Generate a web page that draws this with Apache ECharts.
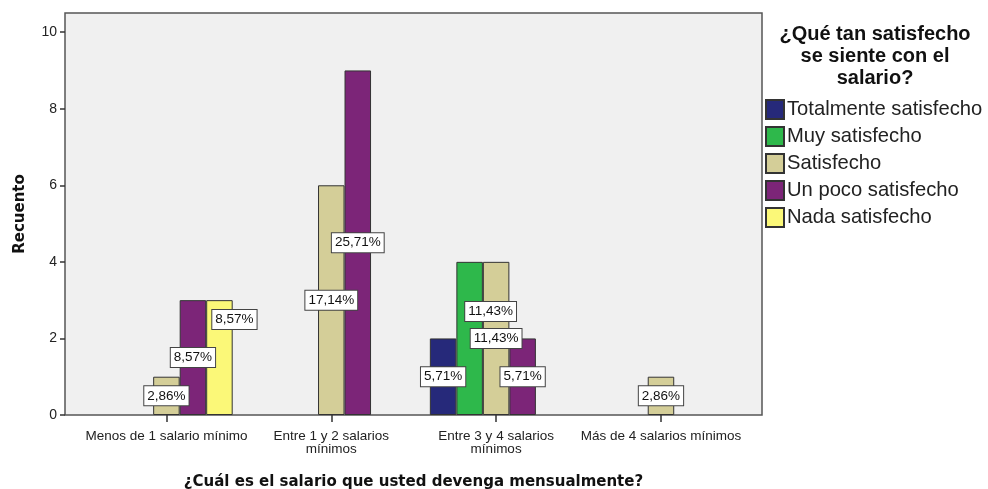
<!DOCTYPE html>
<html>
<head>
<meta charset="utf-8">
<script src="https://cdn.jsdelivr.net/npm/echarts@6/dist/echarts.min.js"></script>
<style>
  html, body { margin: 0; padding: 0; background: #ffffff; }
  #chart { width: 988px; height: 489px; }
</style>
</head>
<body>
<div id="chart"></div>
<script>
// Salary bracket (x axis categories)
const categories = [
  'Menos de 1 salario mínimo',
  'Entre 1 y 2 salarios\nmínimos',
  'Entre 3 y 4 salarios\nmínimos',
  'Más de 4 salarios mínimos'
];

// Satisfaction level (one series each) – counts per salary bracket
const seriesNames = [
  'Totalmente satisfecho',
  'Muy satisfecho',
  'Satisfecho',
  'Un poco satisfecho',
  'Nada satisfecho'
];
const totalmenteSatisfecho = [0, 0, 2, 0];
const muySatisfecho        = [0, 0, 4, 0];
const satisfecho           = [1, 6, 4, 1];
const unPocoSatisfecho     = [3, 9, 2, 0];
const nadaSatisfecho       = [3, 0, 0, 0];

const yTicks = [0, 2, 4, 6, 8, 10];

const seriesValues = [totalmenteSatisfecho, muySatisfecho, satisfecho, unPocoSatisfecho, nadaSatisfecho];
const colors = ['#26297a', '#2eb84b', '#d4ce98', '#7c2578', '#fbf878'];

// total respondents, used for the percentage labels
const total = seriesValues.reduce((s, arr) => s + arr.reduce((a, b) => a + b, 0), 0);

// labels moved aside where they would collide with a neighbour
const labelShift = {
  '4-0': [15, -38],
  '1-2': [21, -27]
};

const fmtPct = v => (v / total * 100).toFixed(2).replace('.', ',') + '%';

const series = seriesNames.map((name, si) => ({
  name: name,
  type: 'bar',
  xAxisIndex: 1,
  yAxisIndex: 1,
  barGap: '0%',
  barCategoryGap: '19.6%',
  itemStyle: { color: colors[si], borderColor: '#333333', borderWidth: 1 },
  emphasis: { disabled: true },
  label: {
    show: true,
    position: 'inside',
    formatter: p => fmtPct(p.value),
    fontFamily: 'Liberation Sans, Arial, sans-serif',
    fontSize: 13.5,
    color: '#111111',
    backgroundColor: '#ffffff',
    borderColor: '#444444',
    borderWidth: 1,
    padding: [3, 3, 2, 3]
  },
  data: seriesValues[si].map((v, ci) => {
    if (!v) return null;
    const item = { value: v };
    const sh = labelShift[si + '-' + ci];
    if (sh) item.label = { offset: sh };
    return item;
  })
}));

const chart = echarts.init(document.getElementById('chart'), null, { renderer: 'canvas' });

chart.setOption({
  animation: false,
  backgroundColor: '#ffffff',
  title: {
    text: '¿Qué tan satisfecho\nse siente con el\nsalario?',
    left: 875,
    top: 23,
    padding: 0,
    textAlign: 'center',
    textStyle: {
      fontFamily: 'Liberation Sans, Arial, sans-serif',
      fontWeight: 'bold',
      fontSize: 20,
      lineHeight: 22,
      color: '#111111'
    }
  },
  legend: {
    data: seriesNames,
    orient: 'vertical',
    left: 765,
    top: 99,
    padding: 0,
    itemWidth: 18,
    itemHeight: 19,
    itemGap: 6,
    icon: 'rect',
    selectedMode: false,
    textStyle: {
      fontFamily: 'Liberation Sans, Arial, sans-serif',
      fontSize: 20.2,
      color: '#222222',
      padding: [0, 0, 0, -2]
    }
  },
  grid: [
    // framed plot panel
    { left: 65, right: 226, top: 13, bottom: 74, show: true, outerBoundsMode: 'none', containLabel: false,
      backgroundColor: '#f0f0f0', borderColor: '#555555', borderWidth: 1.5 },
    // bars region
    { left: 84, right: 244.6, top: 13, bottom: 74, outerBoundsMode: 'none', containLabel: false }
  ],
  xAxis: [
    {
      gridIndex: 0,
      type: 'value',
      min: 0, max: 1,
      axisLine: { show: false },
      axisTick: { show: false },
      axisLabel: { show: false },
      splitLine: { show: false },
      name: '¿Cuál es el salario que usted devenga mensualmente?',
      nameLocation: 'middle',
      nameGap: 60,
      nameTextStyle: {
        fontFamily: 'DejaVu Sans, sans-serif',
        fontWeight: 'bold',
        fontSize: 15,
        color: '#111111'
      }
    },
    {
      gridIndex: 1,
      type: 'category',
      data: categories,
      axisLine: { show: false },
      axisTick: { show: true, alignWithLabel: true, length: 7, lineStyle: { color: '#333333', width: 1.5 } },
      axisLabel: {
        interval: 0,
        margin: 14.5,
        fontFamily: 'Liberation Sans, Arial, sans-serif',
        fontSize: 13.5,
        lineHeight: 13,
        color: '#222222'
      }
    }
  ],
  yAxis: [
    {
      gridIndex: 0,
      type: 'value',
      min: 0, max: 10.5,
      axisLine: { show: false },
      axisTick: { show: true, length: 5, customValues: yTicks, lineStyle: { color: '#333333', width: 1.5 } },
      axisLabel: {
        customValues: yTicks,
        margin: 8,
        fontFamily: 'Liberation Sans, Arial, sans-serif',
        fontSize: 14,
        color: '#222222'
      },
      splitLine: { show: false },
      name: 'Recuento',
      nameLocation: 'middle',
      nameGap: 37,
      nameTextStyle: {
        fontFamily: 'DejaVu Sans, sans-serif',
        fontWeight: 'bold',
        fontSize: 15,
        color: '#111111'
      }
    },
    {
      gridIndex: 1,
      type: 'value',
      min: 0, max: 10.5,
      show: false,
      splitLine: { show: false }
    }
  ],
  series: series
});
</script>
</body>
</html>
